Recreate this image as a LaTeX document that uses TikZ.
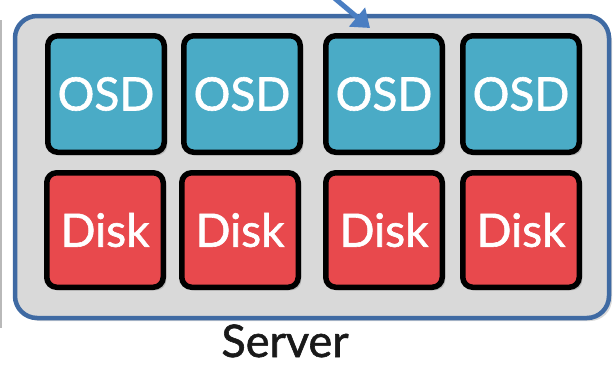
\documentclass[tikz,border=0pt]{standalone}
\usepackage{fontspec}
\setmainfont{Lato}[FakeBold=1.3]
\usetikzlibrary{shadows,arrows.meta}
\definecolor{osdc}{HTML}{4AABC6}
\definecolor{diskc}{HTML}{E8494D}
\definecolor{srvline}{HTML}{3F6AA3}
\definecolor{srvfill}{HTML}{D9D9D9}
\definecolor{arrc}{HTML}{4A7EC2}
\tikzset{
  unit/.style={draw=black, line width=5.5pt, rounded corners=10pt, minimum width=116.5pt, minimum height=116.5pt,
     text=white, font=\fontsize{46}{50}\selectfont, inner sep=0pt,
     drop shadow={opacity=0.35, shadow xshift=3pt, shadow yshift=-3pt}},
  osd/.style={unit, fill=osdc},
  disk/.style={unit, fill=diskc, minimum height=114.5pt},
  server/.style={draw=srvline, line width=4.5pt, fill=srvfill, rounded corners=22pt,
     drop shadow={opacity=0.3, shadow xshift=3pt, shadow yshift=-3pt}},
}
\begin{document}
\begin{tikzpicture}[x=1pt,y=-1pt]
\useasboundingbox (0,0) rectangle (615,368);
\draw[gray!55, line width=2.5pt] (1,20) -- (1,328);
\node[server, minimum width=594pt, minimum height=302pt] (srv) at (312,167) {};
\node[osd] (o1) at (106,94) {OSD};
\node[osd] (o2) at (242,94) {OSD};
\node[osd] (o3) at (384,94) {OSD};
\node[osd] (o4) at (521,94) {OSD};
\node[disk] (d1) at (105,230) {Disk};
\node[disk] (d2) at (240,230) {Disk};
\node[disk] (d3) at (384,230) {Disk};
\node[disk] (d4) at (521,230) {Disk};
\node[font=\fontsize{45}{48}\selectfont, text=black!90, anchor=base] (lbl) at (285,357) {Server};
\coordinate (src) at (332,-4);
\coordinate (tip) at (370,28);
\draw[arrc, line width=5pt, -{Triangle[length=17pt,width=24pt]}] (src) -- (tip);
\end{tikzpicture}
\end{document}
